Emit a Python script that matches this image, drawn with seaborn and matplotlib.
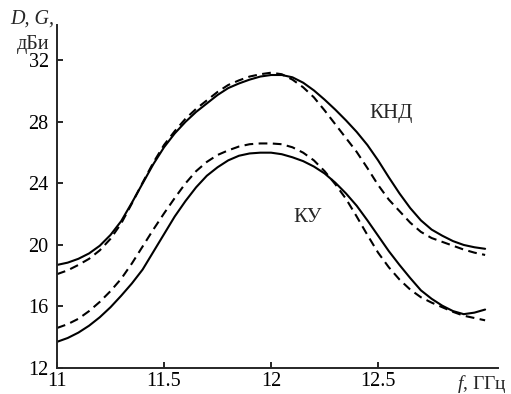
import numpy as np
import pandas as pd
import matplotlib
matplotlib.use("Agg")
import matplotlib.pyplot as plt
import seaborn as sns

# frequency grid, GHz (0.05 step)
freq = [11.00, 11.05, 11.10, 11.15, 11.20, 11.25, 11.30, 11.35, 11.40, 11.45,
        11.50, 11.55, 11.60, 11.65, 11.70, 11.75, 11.80, 11.85, 11.90, 11.95,
        12.00, 12.05, 12.10, 12.15, 12.20, 12.25, 12.30, 12.35, 12.40, 12.45,
        12.50, 12.55, 12.60, 12.65, 12.70, 12.75, 12.80, 12.85, 12.90, 12.95,
        13.00]

# directivity (КНД), dBi
knd_solid = [18.7, 18.85, 19.1, 19.45, 19.95, 20.65, 21.55, 22.75, 24.0, 25.25,
             26.35, 27.25, 28.0, 28.65, 29.2, 29.75, 30.2, 30.5, 30.75, 30.95,
             31.05, 31.05, 30.9, 30.55, 30.05, 29.45, 28.8, 28.1, 27.35, 26.5,
             25.5, 24.4, 23.35, 22.4, 21.6, 21.0, 20.6, 20.25, 20.0, 19.85,
             19.75]
knd_dashed = [18.1, 18.35, 18.7, 19.1, 19.65, 20.4, 21.4, 22.7, 24.05, 25.35,
              26.5, 27.4, 28.2, 28.85, 29.4, 29.95, 30.4, 30.7, 30.95, 31.1,
              31.2, 31.1, 30.75, 30.25, 29.6, 28.75, 27.85, 26.95, 26.05, 25.0,
              23.9, 22.95, 22.2, 21.45, 20.85, 20.45, 20.2, 19.95, 19.7, 19.5,
              19.35]

# gain (КУ), dBi
ku_solid = [13.7, 13.95, 14.3, 14.75, 15.3, 15.95, 16.7, 17.5, 18.4, 19.55,
            20.7, 21.85, 22.85, 23.75, 24.5, 25.05, 25.5, 25.8, 25.95, 26.0,
            26.0, 25.9, 25.7, 25.45, 25.1, 24.65, 24.05, 23.35, 22.55, 21.6,
            20.6, 19.6, 18.7, 17.85, 17.05, 16.5, 16.05, 15.7, 15.5, 15.6,
            15.8]
ku_dashed = [14.6, 14.85, 15.2, 15.7, 16.3, 17.0, 17.8, 18.8, 19.9, 21.0,
             22.05, 23.05, 24.0, 24.8, 25.4, 25.85, 26.15, 26.4, 26.55, 26.6,
             26.6, 26.55, 26.35, 26.0, 25.5, 24.8, 23.95, 23.0, 21.85, 20.65,
             19.5, 18.55, 17.75, 17.1, 16.6, 16.25, 15.95, 15.65, 15.4, 15.25,
             15.1]

y_ticks = [12, 16, 20, 24, 28, 32]
x_ticks = [11, 11.5, 12, 12.5]
x_tick_labels = ["11", "11.5", "12", "12.5"]

df = pd.concat([
    pd.DataFrame({"f": freq, "val": knd_solid, "curve": "knd_s", "kind": "solid"}),
    pd.DataFrame({"f": freq, "val": knd_dashed, "curve": "knd_d", "kind": "dashed"}),
    pd.DataFrame({"f": freq, "val": ku_solid, "curve": "ku_s", "kind": "solid"}),
    pd.DataFrame({"f": freq, "val": ku_dashed, "curve": "ku_d", "kind": "dashed"}),
])

sns.set_style("ticks")
plt.rcParams.update({
    "font.family": ["Liberation Serif", "DejaVu Serif"],
    "mathtext.fontset": "custom",
    "mathtext.it": "Liberation Serif:italic",
    "mathtext.rm": "Liberation Serif",
    "axes.linewidth": 1.4,
})

fig = plt.figure(figsize=(5.11, 3.94), dpi=100)
ax = fig.add_axes([0.1115, 0.066, 0.863, 0.8705])

for name, sub in df.groupby("curve", sort=False):
    style = "-" if sub["kind"].iloc[0] == "solid" else (0, (4.2, 2.6))
    sns.lineplot(data=sub, x="f", y="val", ax=ax, color="black",
                 linewidth=1.5, linestyle=style, legend=False)

ax.set_xlim(11, 13.06)
ax.set_ylim(12, 34.3)
ax.set_xticks(x_ticks)
ax.set_xticklabels(x_tick_labels)
ax.set_yticks(y_ticks)
ax.tick_params(direction="in", length=4, width=1.2, labelsize=14.5, colors="black")
ax.tick_params(axis="x", pad=3)
ax.tick_params(axis="y", pad=6)
ax.set_xlabel("")
ax.set_ylabel("")
sns.despine(ax=ax)

ax.text(12.56, 28.55, "КНД", fontsize=15, ha="center", va="center")
ax.text(12.17, 21.8, "КУ", fontsize=15, ha="center", va="center")

fig.text(32 / 511, 1 - 19 / 394, "D, G,", fontsize=14.5, style="italic",
         ha="center", va="center")
fig.text(33 / 511, 1 - 44 / 394, "дБи", fontsize=14.5, ha="center", va="center")
fig.text(507 / 511, 1 - 384 / 394, "$f$, ГГц", fontsize=14,
         ha="right", va="center")

fig.savefig("out.png", dpi=100)
